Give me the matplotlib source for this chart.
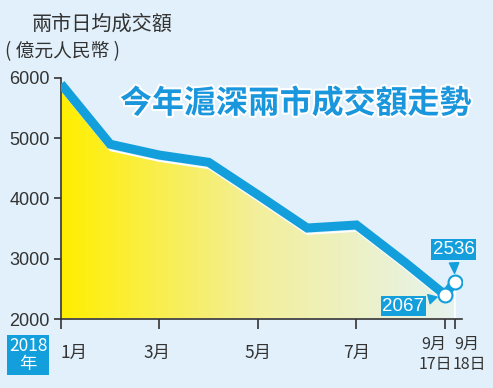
import numpy as np
import matplotlib.pyplot as plt
import matplotlib.patheffects as pe
from matplotlib.colors import LinearSegmentedColormap

plt.rcParams['font.family'] = ['Noto Sans CJK TC', 'DejaVu Sans']

# data (x = month position)
x_pos = [1, 2, 3, 4, 5, 6, 7, 8, 8.8, 9.0]
values = [5900, 4900, 4720, 4600, 4060, 3510, 3560, 2930, 2400, 2620]
tick_pos = [1, 3, 5, 7, 8.8, 9.0]
yticks = [2000, 3000, 4000, 5000, 6000]
last_labels = ['2067', '2536']

bg = '#e1f0fa'
blue = '#139fdc'
dark = '#333333'

fig = plt.figure(figsize=(4.93, 3.88), dpi=100, facecolor=bg)
ax = fig.add_axes([0.1237, 0.1778, 0.813, 0.6213])
ax.set_facecolor(bg)
ax.set_xlim(1, 9.14)
ax.set_ylim(2000, 6000)

# gradient fill under the line
cmap = LinearSegmentedColormap.from_list('yl', ['#ffee00', '#f3ef9c', '#e6f3ee'])
grad = np.linspace(0, 1, 256).reshape(1, -1)
poly = ax.fill_between(x_pos, [v - 100 for v in values], 2000, color='none',
                       edgecolor='none')
img = ax.imshow(grad, extent=[1, 9.0, 2000, 6000], aspect='auto', cmap=cmap,
                origin='lower', zorder=1)
img.set_clip_path(poly.get_paths()[0], transform=ax.transData)
ax.fill_between(x_pos, [v - 100 for v in values], 2000, facecolor='none',
                edgecolor='white', linewidth=1.2, zorder=1.5)

ax.plot(x_pos, values, color=blue, linewidth=6.5, solid_joinstyle='miter',
        solid_capstyle='butt', zorder=3)
ax.plot(x_pos[-2:], values[-2:], 'o', markersize=10, markerfacecolor='white',
        markeredgecolor=blue, markeredgewidth=1.5, zorder=4)

# value callouts
ax.annotate(last_labels[0], xy=(x_pos[-2], values[-2]), xytext=(-30, -8),
            textcoords='offset points', ha='center', va='center', color='white',
            fontsize=13.5, family=['Liberation Sans'],
            bbox=dict(boxstyle='square,pad=0.1', fc=blue, ec='none'),
            arrowprops=dict(arrowstyle='wedge,tail_width=0.5,shrink_factor=0.5',
                            color=blue, shrinkB=6), zorder=5)
ax.annotate(last_labels[1], xy=(x_pos[-1], values[-1]), xytext=(-1, 23),
            textcoords='offset points', ha='center', va='center', color='white',
            fontsize=13.5, family=['Liberation Sans'],
            bbox=dict(boxstyle='square,pad=0.1', fc=blue, ec='none'),
            arrowprops=dict(arrowstyle='wedge,tail_width=0.5,shrink_factor=0.5',
                            color=blue, shrinkB=6), zorder=5)

for s in ['top', 'right']:
    ax.spines[s].set_visible(False)
for s in ['left', 'bottom']:
    ax.spines[s].set_color(dark)
    ax.spines[s].set_linewidth(1.2)
ax.spines['bottom'].set_bounds(1, 9.14)

ax.set_yticks(yticks)
ax.set_yticklabels([str(v) for v in yticks], family=['Liberation Sans'],
                   fontsize=13, color=dark)
ax.tick_params(axis='y', length=5, width=1.2, color=dark, pad=3)
ax.set_xticks(tick_pos)
ax.set_xticklabels([])
ax.tick_params(axis='x', length=7, width=1.2, color=dark, direction='out')

# x labels
xl = dict(ha='center', va='center', fontsize=12.5, color=dark)
fig.text(74 / 493, 1 - 353 / 388, '1月', **xl)
fig.text(157 / 493, 1 - 353 / 388, '3月', **xl)
fig.text(258 / 493, 1 - 353 / 388, '5月', **xl)
fig.text(357 / 493, 1 - 353 / 388, '7月', **xl)
xs = dict(ha='center', va='center', fontsize=11.5, color=dark)
fig.text(434 / 493, 1 - 344 / 388, '9月', **xs)
fig.text(435 / 493, 1 - 365 / 388, '17日', **xs)
fig.text(467 / 493, 1 - 344 / 388, '9月', **xs)
fig.text(469 / 493, 1 - 365 / 388, '18日', **xs)

fig.text(28 / 493, 1 - 355 / 388, '2018\n年', ha='center', va='center',
         fontsize=12.5, color='white', linespacing=0.95,
         bbox=dict(boxstyle='square,pad=0.12', fc=blue, ec='none'))

fig.text(32 / 493, 1 - 24 / 388, '兩市日均成交額', ha='left', va='center',
         fontsize=14.5, color=dark)
fig.text(5 / 493, 1 - 52 / 388, '( 億元人民幣 )', ha='left', va='center',
         fontsize=13.5, color=dark)

fig.text(296 / 493, 1 - 104 / 388, '今年滬深兩市成交額走勢', ha='center',
         va='center', fontsize=23, fontweight='black', color='#1a96dc',
         path_effects=[pe.withStroke(linewidth=3, foreground='white')])

fig.savefig('out.png', dpi=100, facecolor=bg)
